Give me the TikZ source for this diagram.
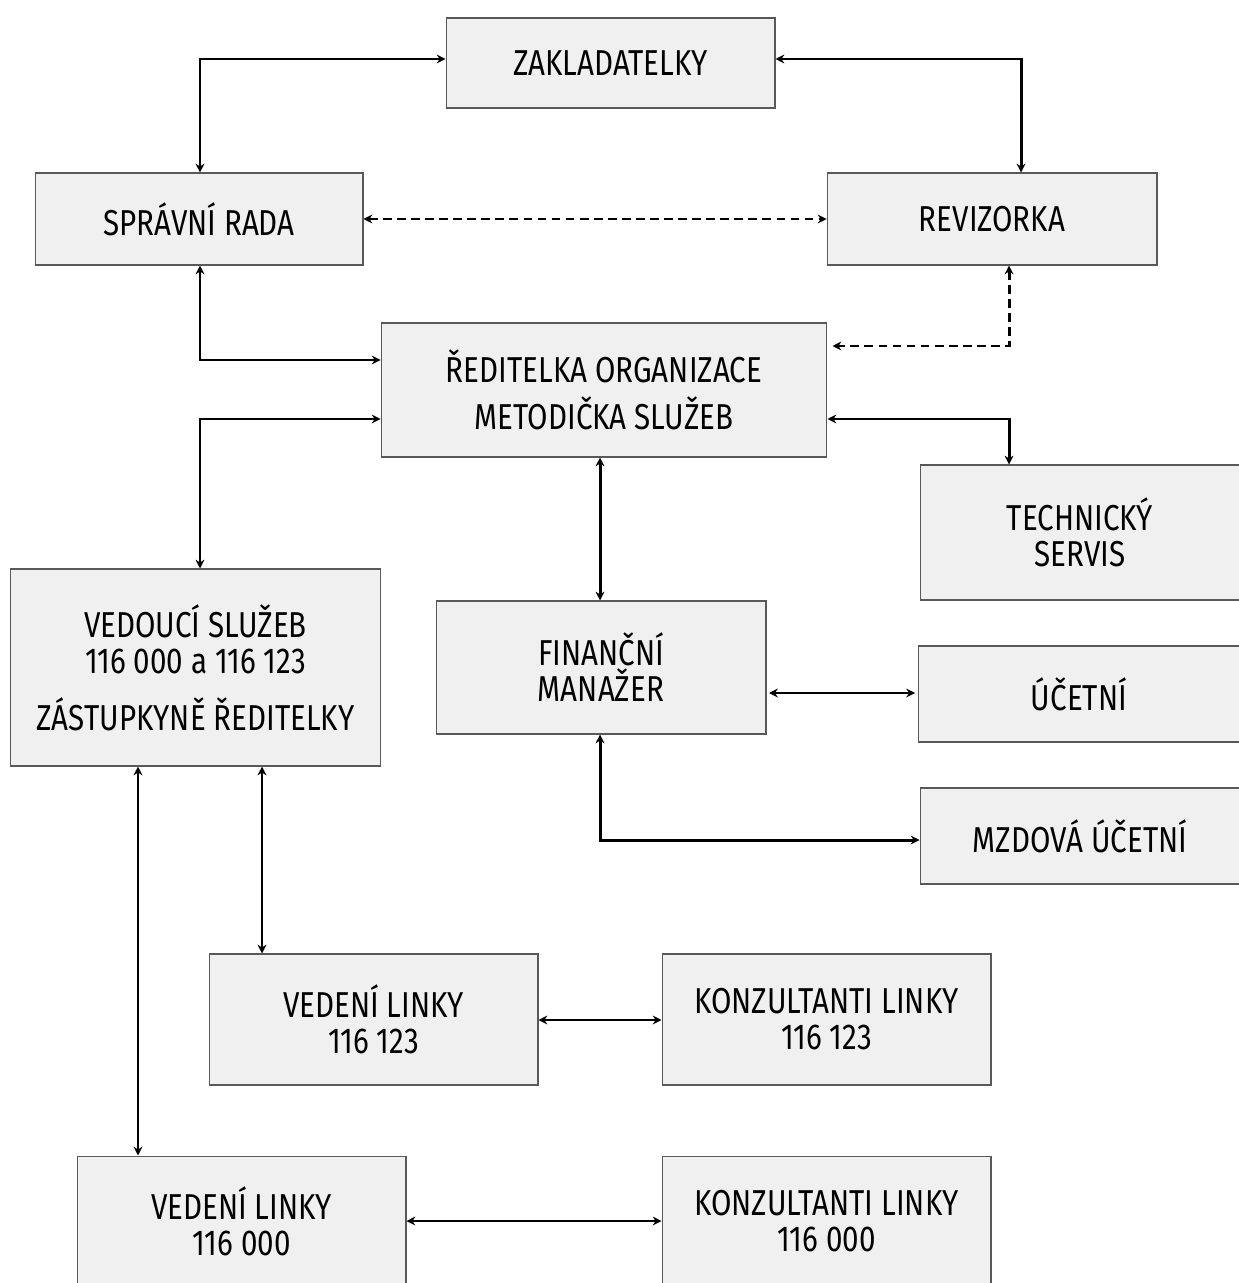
\documentclass[tikz,border=0pt]{standalone}
\usepackage{fontspec}
\setmainfont{Fira Sans}[FakeStretch=0.82]
\usetikzlibrary{arrows.meta}
\tikzset{
  box/.style={draw=black!65, line width=0.6pt, fill=black!6, align=center,
    font=\fontsize{20.5}{20.5}\selectfont, inner sep=0pt},
  link/.style={line width=1.7pt, {Stealth[length=5pt,width=5pt]}-{Stealth[length=5pt,width=5pt]}},
  dlink/.style={link, dashed, dash pattern=on 5pt off 3pt},
}
\begin{document}
\begin{tikzpicture}[x=0.02cm,y=-0.02cm]
\useasboundingbox (0,0) rectangle (1238,1283);
\node[box, minimum width=6.58cm, minimum height=1.8cm] (zak) at (610.5,63) {ZAKLADATELKY};
\node[box, minimum width=6.56cm, minimum height=1.84cm] (spr) at (199,219) {SPRÁVNÍ RADA};
\node[box, minimum width=6.6cm, minimum height=1.84cm] (rev) at (992,219) {REVIZORKA};
\node[box, minimum width=8.92cm, minimum height=2.68cm, font=\fontsize{20.5}{27}\selectfont] (red) at (604,390) {ŘEDITELKA ORGANIZACE\\METODIČKA SLUŽEB};
\node[box, minimum width=6.4cm, minimum height=2.7cm] (tech) at (1080,532.5) {TECHNICKÝ\\SERVIS};
\node[box, minimum width=7.42cm, minimum height=3.94cm] (ved) at (195.5,667.5) {VEDOUCÍ SLUŽEB\\116 000 a 116 123\\[12pt]ZÁSTUPKYNĚ ŘEDITELKY};
\node[box, minimum width=6.6cm, minimum height=2.66cm] (fin) at (601,667.5) {FINANČNÍ\\MANAŽER};
\node[box, minimum width=6.44cm, minimum height=1.92cm] (uc) at (1079,694) {ÚČETNÍ};
\node[box, minimum width=6.4cm, minimum height=1.92cm] (mzd) at (1080,836) {MZDOVÁ ÚČETNÍ};
\node[box, minimum width=6.58cm, minimum height=2.62cm] (vl1) at (373.5,1019.5) {VEDENÍ LINKY\\116 123};
\node[box, minimum width=6.58cm, minimum height=2.62cm] (kl1) at (826.5,1019.5) {KONZULTANTI LINKY\\116 123};
\node[box, minimum width=6.58cm, minimum height=2.62cm] (vl0) at (241.5,1221.5) {VEDENÍ LINKY\\116 000};
\node[box, minimum width=6.58cm, minimum height=2.62cm] (kl0) at (826.5,1221.5) {KONZULTANTI LINKY\\116 000};
% connectors
\draw[link] (zak.west |- 0,59) -| (200,0 |- spr.north);
\draw[link] (zak.east |- 0,59) -| (1021,0 |- rev.north);
\draw[dlink] (spr.east) -- (rev.west);
\draw[link] (200,0 |- spr.south) |- (red.west |- 0,360);
\draw[dlink] (1009,0 |- rev.south) |- ([xshift=0.1cm]red.east |- 0,346);
\draw[link] (red.west |- 0,419) -| (200,0 |- ved.north);
\draw[link] (red.east |- 0,419) -| (1009,0 |- tech.north);
\draw[link] (600,0 |- red.south) -- (600,0 |- fin.north);
\draw[link] ([xshift=0.05cm]fin.east |- 0,693) -- ([xshift=-0.05cm]uc.west |- 0,693);
\draw[link] (600,0 |- fin.south) |- (mzd.west |- 0,840);
\draw[link, line width=1.3pt] (262,0 |- ved.south) -- (262,0 |- vl1.north);
\draw[link, line width=1.3pt] (138,0 |- ved.south) -- (138,0 |- vl0.north);
\draw[link, line width=1.3pt] (vl1.east |- 0,1020) -- (kl1.west |- 0,1020);
\draw[link, line width=1.3pt] (vl0.east |- 0,1221) -- (kl0.west |- 0,1221);
\end{tikzpicture}
\end{document}
